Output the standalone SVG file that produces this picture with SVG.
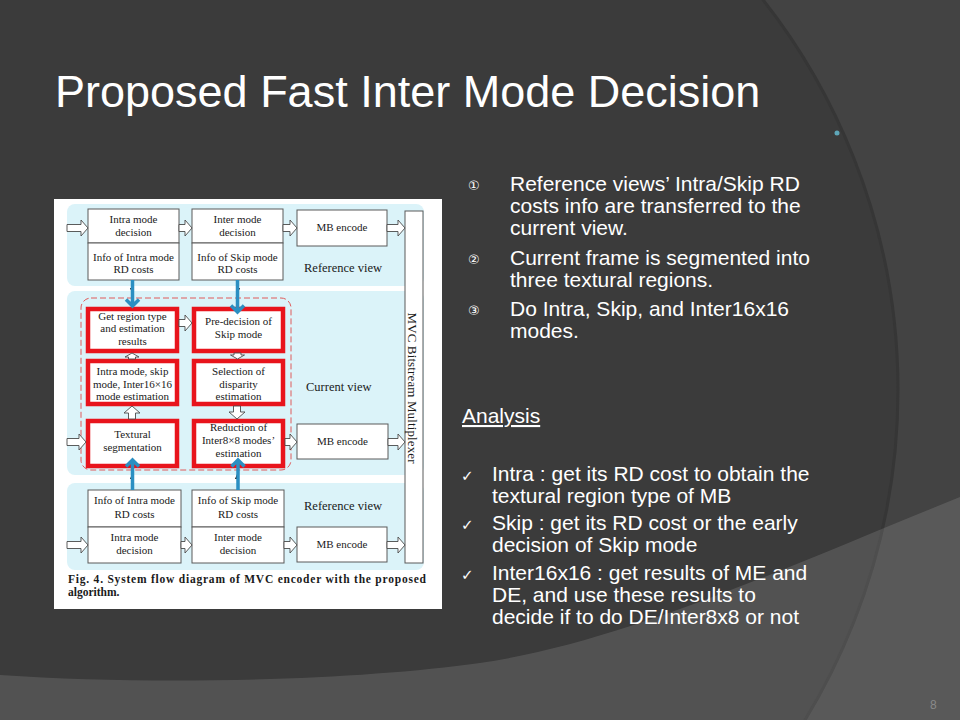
<svg xmlns="http://www.w3.org/2000/svg" width="960" height="720" viewBox="0 0 960 720">
<defs>
<style>
.bg-text{font-family:"Liberation Sans",Arial,sans-serif;fill:#ffffff}
.title{font-size:45px}
.body{font-size:21px}
.mark{font-family:"DejaVu Sans","Liberation Sans",sans-serif;font-size:13px;fill:#ffffff}
.chk{font-family:"DejaVu Sans","Liberation Sans",sans-serif;font-size:15px;fill:#ffffff}
.band{fill:#dbf3f9}
.box{fill:#ffffff;stroke:#5a5a5a;stroke-width:1}
.rbox{fill:#ffffff;stroke:#e8141c;stroke-width:4.5}
.t{font-family:"Liberation Serif","Times New Roman",serif;font-size:11px;fill:#1a1a1a;text-anchor:middle}
.lbl{font-family:"Liberation Serif","Times New Roman",serif;font-size:12.5px;fill:#1a1a1a}
.cap{font-family:"Liberation Serif","Times New Roman",serif;font-size:11.5px;font-weight:bold;fill:#1a1a1a}
.ha{fill:#ffffff;stroke:#4a4a4a;stroke-width:0.9}
.blue{fill:none;stroke:#2b8fc2;stroke-width:3.5}
.blk{fill:#111}
</style>
</defs>

<!-- background -->
<rect width="960" height="720" fill="#434343"/>
<circle cx="267" cy="390" r="631" fill="#3b3b3b" stroke="#363636" stroke-width="3"/>
<path d="M0,675 C160,686 360,680 480,663 C620,643 780,570 960,497 L960,720 L0,720 Z" fill="#ffffff" fill-opacity="0.12"/>
<circle cx="837" cy="133" r="2.5" fill="#5ea6b8"/>

<!-- slide text -->
<text class="bg-text title" x="55" y="107">Proposed Fast Inter Mode Decision</text>

<g id="bullets-top">
<text class="mark" x="468" y="190">①</text>
<text class="bg-text body" x="510" y="191">Reference views’ Intra/Skip RD</text>
<text class="bg-text body" x="510" y="213">costs info are transferred to the</text>
<text class="bg-text body" x="510" y="235">current view.</text>
<text class="mark" x="468" y="264">②</text>
<text class="bg-text body" x="510" y="265">Current frame is segmented into</text>
<text class="bg-text body" x="510" y="287">three textural regions.</text>
<text class="mark" x="468" y="315">③</text>
<text class="bg-text body" x="510" y="316">Do Intra, Skip, and Inter16x16</text>
<text class="bg-text body" x="510" y="338">modes.</text>
</g>

<g id="analysis">
<text class="bg-text body" x="462" y="423" text-decoration="underline">Analysis</text>
<text class="chk" x="461" y="481">✓</text>
<text class="bg-text body" x="492" y="481">Intra : get its RD cost to obtain the</text>
<text class="bg-text body" x="492" y="503">textural region type of MB</text>
<text class="chk" x="461" y="530">✓</text>
<text class="bg-text body" x="492" y="530">Skip : get its RD cost or the early</text>
<text class="bg-text body" x="492" y="552">decision of Skip mode</text>
<text class="chk" x="461" y="580">✓</text>
<text class="bg-text body" x="492" y="580">Inter16x16 : get results of ME and</text>
<text class="bg-text body" x="492" y="602">DE, and use these results to</text>
<text class="bg-text body" x="492" y="624">decide if to do DE/Inter8x8 or not</text>
</g>

<text x="930" y="709" font-family="Liberation Sans, Arial, sans-serif" font-size="12" fill="#8a8a8a">8</text>

<!-- figure -->
<g id="figure">
<rect x="54" y="199" width="388" height="410" fill="#ffffff"/>
<rect class="band" x="67" y="204" width="357" height="82" rx="8"/>
<rect class="band" x="67" y="291" width="357" height="184" rx="8"/>
<rect class="band" x="67" y="483" width="357" height="87" rx="8"/>
<rect x="81" y="298" width="210" height="172" rx="10" fill="none" stroke="#e05a5a" stroke-width="1" stroke-dasharray="6,3"/>
<text class="lbl" x="304" y="272">Reference view</text>
<text class="lbl" x="306" y="391">Current view</text>
<text class="lbl" x="304" y="510">Reference view</text>
<text class="cap" x="68" y="583" textLength="358" lengthAdjust="spacing">Fig. 4. System flow diagram of MVC encoder with the proposed</text>
<text class="cap" x="68" y="596">algorithm.</text>
</g>

<!-- top reference view -->
<g id="top-intra-decision"><rect class="box" x="88" y="209" width="91" height="34"/><text class="t" x="133.5" y="223">Intra mode</text><text class="t" x="133.5" y="236">decision</text></g>
<g id="top-intra-info"><rect class="box" x="88" y="243" width="91" height="37"/><text class="t" x="133.5" y="261">Info of Intra mode</text><text class="t" x="133.5" y="273">RD costs</text></g>
<g id="top-inter-decision"><rect class="box" x="192" y="209" width="91" height="34"/><text class="t" x="237.5" y="223">Inter mode</text><text class="t" x="237.5" y="236">decision</text></g>
<g id="top-skip-info"><rect class="box" x="192" y="243" width="91" height="37"/><text class="t" x="237.5" y="261">Info of Skip mode</text><text class="t" x="237.5" y="273">RD costs</text></g>
<g id="top-mb-encode"><rect class="box" x="297" y="210" width="90" height="36"/><text class="t" x="342" y="231">MB encode</text></g>

<!-- multiplexer -->
<g id="mux"><rect class="box" x="405" y="211" width="18" height="352"/>
<text x="0" y="0" transform="translate(408,388) rotate(90)" font-family="Liberation Serif, Times New Roman, serif" font-size="13" fill="#1a1a1a" text-anchor="middle" textLength="151" lengthAdjust="spacing">MVC Bitstream Multiplexer</text></g>

<!-- current view -->
<g id="get-region"><rect class="rbox" x="88" y="309" width="89" height="42"/><text class="t" x="132.5" y="320">Get region type</text><text class="t" x="132.5" y="332">and estimation</text><text class="t" x="132.5" y="345">results</text></g>
<g id="pre-decision"><rect class="rbox" x="194" y="309" width="89" height="42"/><text class="t" x="238.5" y="325">Pre-decision of</text><text class="t" x="238.5" y="338">Skip mode</text></g>
<g id="intra-est"><rect class="rbox" x="88" y="361" width="89" height="43"/><text class="t" x="132.5" y="375">Intra mode, skip</text><text class="t" x="132.5" y="388">mode, Inter16×16</text><text class="t" x="132.5" y="400">mode estimation</text></g>
<g id="selection"><rect class="rbox" x="194" y="361" width="89" height="43"/><text class="t" x="238.5" y="375">Selection of</text><text class="t" x="238.5" y="388">disparity</text><text class="t" x="238.5" y="400">estimation</text></g>
<g id="textural"><rect class="rbox" x="88" y="421" width="89" height="45"/><text class="t" x="132.5" y="438">Textural</text><text class="t" x="132.5" y="451">segmentation</text></g>
<g id="reduction"><rect class="rbox" x="194" y="421" width="89" height="45"/><text class="t" x="238.5" y="431">Reduction of</text><text class="t" x="238.5" y="444">Inter8×8 modes’</text><text class="t" x="238.5" y="457">estimation</text></g>
<g id="cur-mb-encode"><rect class="box" x="297" y="424" width="91" height="35"/><text class="t" x="342.5" y="445">MB encode</text></g>

<!-- bottom reference view -->
<g id="bot-intra-info"><rect class="box" x="88" y="490" width="93" height="37"/><text class="t" x="134.5" y="504">Info of Intra mode</text><text class="t" x="134.5" y="518">RD costs</text></g>
<g id="bot-intra-decision"><rect class="box" x="88" y="527" width="93" height="36"/><text class="t" x="134.5" y="541">Intra mode</text><text class="t" x="134.5" y="554">decision</text></g>
<g id="bot-skip-info"><rect class="box" x="192" y="490" width="92" height="37"/><text class="t" x="238" y="504">Info of Skip mode</text><text class="t" x="238" y="518">RD costs</text></g>
<g id="bot-inter-decision"><rect class="box" x="192" y="527" width="92" height="36"/><text class="t" x="238" y="541">Inter mode</text><text class="t" x="238" y="554">decision</text></g>
<g id="bot-mb-encode"><rect class="box" x="297" y="527" width="90" height="35"/><text class="t" x="342" y="548">MB encode</text></g>

<!-- connectors -->
<g id="connectors">
<polygon class="ha" points="67,224.5 81,224.5 81,220 88,228 81,236 81,231.5 67,231.5"/>
<polygon class="ha" points="179,224.5 185,224.5 185,220 192,228 185,236 185,231.5 179,231.5"/>
<polygon class="ha" points="283,224.5 290,224.5 290,220 297,228 290,236 290,231.5 283,231.5"/>
<polygon class="ha" points="387,224.5 398,224.5 398,220 405,228 398,236 398,231.5 387,231.5"/>

<polygon class="ha" points="67,438.5 79,438.5 79,434 86,442 79,450 79,445.5 67,445.5"/>
<polygon class="ha" points="285,438.5 290,438.5 290,434 297,442 290,450 290,445.5 285,445.5"/>
<polygon class="ha" points="388,438.5 398,438.5 398,434 405,442 398,450 398,445.5 388,445.5"/>
<polygon class="ha" points="179,319.5 185,319.5 185,315 192,323 185,331 185,326.5 179,326.5"/>
<polygon class="ha" points="128.5,419 128.5,413 124,413 132,406 140,413 135.5,413 135.5,419"/>
<polygon class="ha" points="233.5,406 233.5,412 229,412 237,419 245,412 240.5,412 240.5,406"/>
<polygon class="ha" points="128.5,359 128.5,357 125,357 132,353 139,357 135.5,357 135.5,359"/>
<polygon class="ha" points="234,353 234,355 230.5,355 237.5,359 244.5,355 241,355 241,353"/>

<polygon class="ha" points="67,541.5 81,541.5 81,537 88,545 81,553 81,548.5 67,548.5"/>
<polygon class="ha" points="181,541.5 185,541.5 185,537 192,545 185,553 185,548.5 181,548.5"/>
<polygon class="ha" points="284,541.5 290,541.5 290,537 297,545 290,553 290,548.5 284,548.5"/>
<polygon class="ha" points="387,541.5 398,541.5 398,537 405,545 398,553 398,548.5 387,548.5"/>

<path class="blk" d="M130,288 L134,288 L132,293 Z"/>
<path class="blk" d="M236,288 L240,288 L238,293 Z"/>
<path class="blk" d="M132,474 L130,479 L134,479 Z"/>
<path class="blk" d="M237,474 L235,479 L239,479 Z"/>

<path class="blue" d="M132.5,280 V306 M126,299.5 L132.5,306 L139,299.5"/>
<path class="blue" d="M237.5,280 V312 M231,305.5 L237.5,312 L244,305.5"/>
<path class="blue" d="M132.5,490 V460 M126,466.5 L132.5,460 L139,466.5"/>
<path class="blue" d="M238,490 V460 M231.5,466.5 L238,460 L244.5,466.5"/>
</g>
</svg>
